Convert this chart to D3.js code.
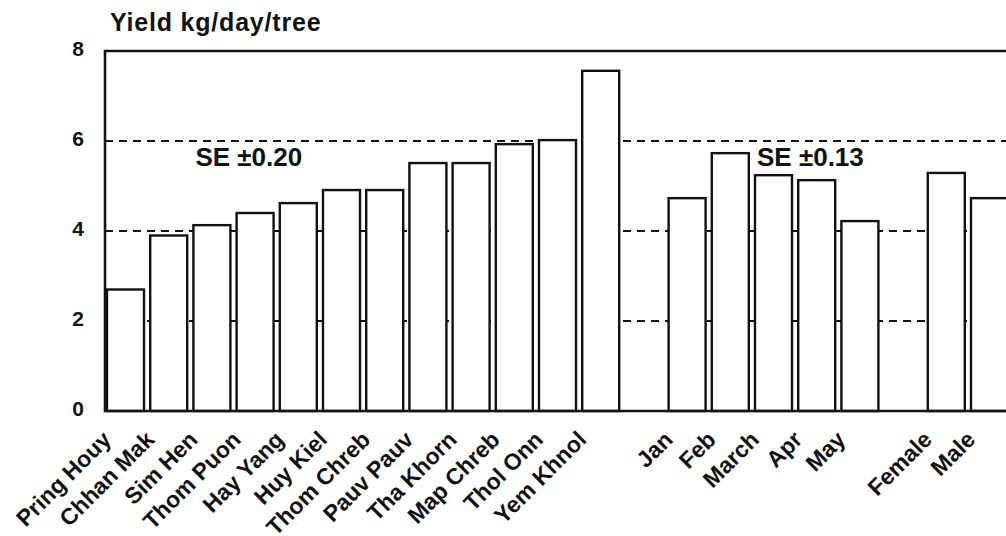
<!DOCTYPE html>
<html>
<head>
<meta charset="utf-8">
<script src="https://cdn.jsdelivr.net/npm/d3@7"></script>
<style>
  body { margin: 0; background: #fff; }
  text { font-family: "Liberation Sans", Arial, sans-serif; font-weight: bold; fill: #111; }
</style>
</head>
<body>
<svg id="chart"></svg>
<script>
// yield per variety (sorted low -> high), per month, per tree sex
const varieties = ['Pring Houy', 'Chhan Mak', 'Sim Hen', 'Thom Puon', 'Hay Yang', 'Huy Kiel',
  'Thom Chreb', 'Pauv Pauv', 'Tha Khorn', 'Map Chreb', 'Thol Onn', 'Yem Khnol'];
const varietyYield = [2.7, 3.9, 4.13, 4.4, 4.62, 4.91, 4.91, 5.51, 5.51, 5.93, 6.02, 7.56];
const months = ['Jan', 'Feb', 'March', 'Apr', 'May'];
const monthYield = [4.73, 5.73, 5.24, 5.13, 4.22];
const sexes = ['Female', 'Male'];
const sexYield = [5.29, 4.73];
const seLabels = ['SE \u00b10.20', 'SE \u00b10.13'];
const yTicks = [0, 2, 4, 6, 8];
const gridValues = [2, 4, 6];

const width = 1006, height = 536;
const plotLeft = 105, plotTop = 51, plotBottom = 411, plotRight = 1020;

const svg = d3.select('#chart').attr('width', width).attr('height', height);
svg.append('rect').attr('width', width).attr('height', height).attr('fill', '#fff');

// slots with one empty slot between the groups
const slots = [...varieties, '_g1', ...months, '_g2', ...sexes];
const bars = [];
varieties.forEach((d, i) => bars.push({ name: d, value: varietyYield[i] }));
months.forEach((d, i) => bars.push({ name: d, value: monthYield[i] }));
sexes.forEach((d, i) => bars.push({ name: d, value: sexYield[i] }));

const x = d3.scaleBand()
  .domain(slots)
  .range([plotLeft + 2, plotLeft + 2 + 43.2 * slots.length - 6.2])
  .paddingInner(6.2 / 43.2)
  .paddingOuter(0);

const y = d3.scaleLinear().domain([0, 8]).range([plotBottom, plotTop]);

// dashed reference lines, behind the bars
svg.append('g')
  .selectAll('line')
  .data(gridValues)
  .enter()
  .append('line')
  .attr('x1', plotLeft)
  .attr('x2', plotRight)
  .attr('y1', d => y(d))
  .attr('y2', d => y(d))
  .attr('stroke', '#111')
  .attr('stroke-width', 2)
  .attr('stroke-dasharray', '8,6');

svg.append('g')
  .selectAll('rect')
  .data(bars)
  .enter()
  .append('rect')
  .attr('x', d => x(d.name))
  .attr('y', d => y(d.value))
  .attr('width', x.bandwidth())
  .attr('height', d => y(0) - y(d.value))
  .attr('fill', '#fff')
  .attr('stroke', '#111')
  .attr('stroke-width', 2.4);

// frame: left axis, top border, baseline
svg.append('path')
  .attr('d', `M${plotRight},${plotTop}H${plotLeft}V${plotBottom}H${plotRight}`)
  .attr('fill', 'none')
  .attr('stroke', '#111')
  .attr('stroke-width', 2.6);

// y axis labels
const yAxis = svg.append('g')
  .attr('transform', `translate(${plotLeft},0)`)
  .call(d3.axisLeft(y).tickValues(yTicks).tickSize(0).tickPadding(21).tickFormat(d3.format('d')));
yAxis.select('.domain').remove();
yAxis.selectAll('text')
  .attr('dy', '0.22em')
  .style('font-size', '21px')
  .style('font-family', '"Liberation Sans", Arial, sans-serif');

// category labels
const xAxis = svg.append('g')
  .attr('transform', `translate(0,${plotBottom})`)
  .call(d3.axisBottom(x).tickSize(0).tickFormat(d => d.startsWith('_') ? '' : d));
xAxis.select('.domain').remove();
xAxis.selectAll('text')
  .attr('x', -13)
  .attr('y', 30)
  .attr('dy', 0)
  .attr('text-anchor', 'end')
  .attr('transform', 'rotate(-45,-13,30)')
  .style('font-size', '23px')
  .style('font-family', '"Liberation Sans", Arial, sans-serif');

// title
svg.append('text')
  .attr('x', 110)
  .attr('y', 31)
  .style('font-size', '25px')
  .style('letter-spacing', '0.8px')
  .text('Yield kg/day/tree');

// standard error notes
svg.selectAll('.se')
  .data([varieties[2], months[2]])
  .enter()
  .append('text')
  .attr('class', 'se')
  .attr('x', d => x(d) + 2)
  .attr('y', y(5.45))
  .style('font-size', '26px')
  .text((d, i) => seLabels[i]);
</script>
</body>
</html>
